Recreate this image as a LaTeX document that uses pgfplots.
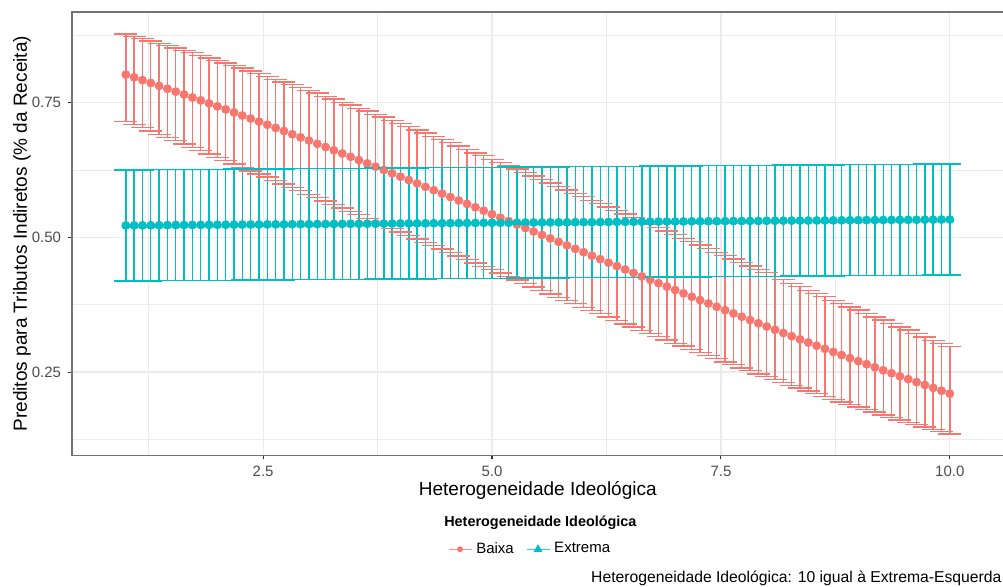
\documentclass[border=0pt]{standalone}
\usepackage{pgfplots}
\usepackage{pgfplotstable}
\pgfplotsset{compat=1.18}
\usepackage{fontspec}
\setmainfont{Liberation Sans}

\definecolor{baixa}{HTML}{F8766D}
\definecolor{extrema}{HTML}{00BFC4}
\definecolor{gridgrey}{HTML}{EBEBEB}
\definecolor{tickgrey}{HTML}{4D4D4D}

% x, Baixa (mean, +err, -err), Extrema mean (+-0.103)
\pgfplotstableread{
x b bp bm e
1.0000 0.8020 0.075 0.087 0.5220
1.0909 0.7968 0.076 0.088 0.5221
1.1818 0.7916 0.077 0.088 0.5222
1.2727 0.7863 0.078 0.089 0.5223
1.3636 0.7810 0.079 0.090 0.5224
1.4545 0.7757 0.080 0.091 0.5226
1.5455 0.7703 0.081 0.091 0.5227
1.6364 0.7649 0.082 0.092 0.5228
1.7273 0.7594 0.083 0.093 0.5229
1.8182 0.7540 0.083 0.093 0.5230
1.9091 0.7484 0.084 0.094 0.5231
2.0000 0.7429 0.085 0.095 0.5232
2.0909 0.7373 0.086 0.095 0.5233
2.1818 0.7317 0.087 0.096 0.5234
2.2727 0.7260 0.088 0.096 0.5236
2.3636 0.7203 0.088 0.097 0.5237
2.4545 0.7146 0.089 0.097 0.5238
2.5455 0.7088 0.090 0.097 0.5239
2.6364 0.7030 0.090 0.098 0.5240
2.7273 0.6972 0.091 0.098 0.5241
2.8182 0.6913 0.092 0.099 0.5242
2.9091 0.6854 0.092 0.099 0.5243
3.0000 0.6795 0.093 0.100 0.5244
3.0909 0.6735 0.094 0.100 0.5246
3.1818 0.6676 0.094 0.100 0.5247
3.2727 0.6615 0.095 0.101 0.5248
3.3636 0.6555 0.095 0.101 0.5249
3.4545 0.6494 0.096 0.101 0.5250
3.5455 0.6433 0.096 0.101 0.5251
3.6364 0.6372 0.097 0.102 0.5252
3.7273 0.6311 0.097 0.102 0.5253
3.8182 0.6249 0.098 0.102 0.5254
3.9091 0.6187 0.098 0.102 0.5256
4.0000 0.6125 0.099 0.103 0.5257
4.0909 0.6062 0.099 0.103 0.5258
4.1818 0.6000 0.099 0.103 0.5259
4.2727 0.5937 0.100 0.103 0.5260
4.3636 0.5874 0.100 0.103 0.5261
4.4545 0.5811 0.100 0.103 0.5262
4.5455 0.5747 0.101 0.103 0.5263
4.6364 0.5684 0.101 0.103 0.5264
4.7273 0.5620 0.101 0.103 0.5266
4.8182 0.5557 0.101 0.103 0.5267
4.9091 0.5493 0.102 0.103 0.5268
5.0000 0.5429 0.102 0.103 0.5269
5.0909 0.5365 0.102 0.103 0.5270
5.1818 0.5301 0.102 0.103 0.5271
5.2727 0.5237 0.103 0.103 0.5272
5.3636 0.5173 0.103 0.103 0.5273
5.4545 0.5108 0.103 0.103 0.5274
5.5455 0.5044 0.103 0.103 0.5276
5.6364 0.4980 0.103 0.103 0.5277
5.7273 0.4915 0.103 0.103 0.5278
5.8182 0.4851 0.103 0.102 0.5279
5.9091 0.4787 0.103 0.102 0.5280
6.0000 0.4723 0.103 0.102 0.5281
6.0909 0.4658 0.103 0.102 0.5282
6.1818 0.4594 0.103 0.101 0.5283
6.2727 0.4530 0.103 0.101 0.5284
6.3636 0.4466 0.103 0.101 0.5286
6.4545 0.4403 0.103 0.101 0.5287
6.5455 0.4339 0.103 0.100 0.5288
6.6364 0.4275 0.103 0.100 0.5289
6.7273 0.4212 0.103 0.100 0.5290
6.8182 0.4149 0.103 0.099 0.5291
6.9091 0.4086 0.103 0.099 0.5292
7.0000 0.4022 0.103 0.099 0.5293
7.0909 0.3960 0.102 0.098 0.5294
7.1818 0.3897 0.102 0.098 0.5296
7.2727 0.3835 0.102 0.097 0.5297
7.3636 0.3773 0.102 0.097 0.5298
7.4545 0.3711 0.101 0.096 0.5299
7.5455 0.3649 0.101 0.096 0.5300
7.6364 0.3588 0.101 0.095 0.5301
7.7273 0.3527 0.101 0.095 0.5302
7.8182 0.3466 0.100 0.094 0.5303
7.9091 0.3405 0.100 0.094 0.5304
8.0000 0.3345 0.100 0.093 0.5306
8.0909 0.3285 0.099 0.092 0.5307
8.1818 0.3225 0.099 0.092 0.5308
8.2727 0.3166 0.098 0.091 0.5309
8.3636 0.3107 0.098 0.090 0.5310
8.4545 0.3048 0.097 0.090 0.5311
8.5455 0.2989 0.097 0.089 0.5312
8.6364 0.2931 0.097 0.088 0.5313
8.7273 0.2873 0.096 0.088 0.5314
8.8182 0.2816 0.096 0.087 0.5316
8.9091 0.2759 0.095 0.086 0.5317
9.0000 0.2702 0.095 0.085 0.5318
9.0909 0.2645 0.094 0.084 0.5319
9.1818 0.2589 0.093 0.083 0.5320
9.2727 0.2533 0.093 0.083 0.5321
9.3636 0.2478 0.092 0.082 0.5322
9.4545 0.2423 0.091 0.081 0.5323
9.5455 0.2368 0.091 0.080 0.5324
9.6364 0.2314 0.090 0.079 0.5326
9.7273 0.2260 0.089 0.078 0.5327
9.8182 0.2206 0.088 0.077 0.5328
9.9091 0.2153 0.088 0.076 0.5329
10.0000 0.2100 0.087 0.075 0.5330
}\data

\pgfplotsset{
    cap/.style={only marks, mark=-, mark size=5.75pt, forget plot,
        mark options={draw=#1, line width=0.7pt}},
    bar/.style={color=#1, only marks, mark=none, forget plot,
        error bars/y dir=both, error bars/error mark=none,
        error bars/error bar style={color=#1, line width=0.7pt}},
}

\begin{document}
\begin{tikzpicture}
% white page background
\fill[white] (-36pt,-65.5pt) rectangle (465.2pt,227.5pt);
\begin{axis}[
    at={(0pt,0pt)}, anchor=south west,
    scale only axis,
    width=465.5pt, height=221.5pt,
    xmin=0.4125, xmax=10.5875,
    ymin=0.0956, ymax=0.918,
    xtick={2.5,5,7.5,10},
    ytick={0.25,0.5,0.75},
    minor xtick={1.25,3.75,6.25,8.75},
    minor ytick={0.125,0.375,0.625,0.875},
    grid=both,
    major grid style={color=gridgrey, line width=0.6pt},
    minor grid style={color=gridgrey, line width=0.35pt},
    axis line style={color=black!55, line width=0.6pt},
    tick align=outside,
    xtick pos=lower, ytick pos=left,
    major tick length=2pt, minor tick length=0pt,
    tick style={color=black!80, line width=0.55pt},
    /pgf/number format/assume math mode=true,
    ticklabel style={font=\fontsize{7.5}{9}\selectfont, text=tickgrey},
    xticklabel style={/pgf/number format/.cd, fixed, fixed zerofill, precision=1},
    yticklabel style={/pgf/number format/.cd, fixed, fixed zerofill, precision=2},
    xlabel={Heterogeneidade Ideológica},
    ylabel={Preditos para Tributos Indiretos (\% da Receita)},
    label style={font=\fontsize{9.5}{11}\selectfont},
    xlabel style={at={(axis description cs:0.5,-0.079)}, anchor=center},
    ylabel style={at={(axis description cs:-0.0537,0.5)}, anchor=center},
    legend columns=2,
    legend style={at={(axis description cs:0.403,-0.212)}, anchor=west,
        draw=none, fill=none, inner sep=0pt,
        font=\fontsize{7.5}{9}\selectfont,
        /tikz/every even column/.append style={column sep=4pt}},
    legend image code/.code={
        \draw[#1, mark=none, line width=0.7pt, opacity=0.8] (0pt,0pt) -- (11.5pt,0pt);
        \draw[#1] plot coordinates {(5.75pt,0pt)};
    },
]

% Baixa: bars and caps
\addplot[bar=baixa, error bars/y explicit]
    table[x=x, y=b, y error plus=bp, y error minus=bm] {\data};
\addplot[cap=baixa] table[x=x, y expr=\thisrow{b}+\thisrow{bp}] {\data};
\addplot[cap=baixa] table[x=x, y expr=\thisrow{b}-\thisrow{bm}] {\data};

% Extrema: bars and caps
\addplot[bar=extrema, error bars/y fixed=0.103] table[x=x, y=e] {\data};
\addplot[cap=extrema] table[x=x, y expr=\thisrow{e}+0.103] {\data};
\addplot[cap=extrema] table[x=x, y expr=\thisrow{e}-0.103] {\data};

% points
\addplot[color=baixa, only marks, mark=*, mark size=1.25pt,
    mark options={draw=none, fill=baixa}]
    table[x=x, y=b] {\data};
\addlegendentry{Baixa}

\addplot[color=extrema, only marks, mark=triangle*, mark size=2.1pt,
    mark options={draw=none, fill=extrema}]
    table[x=x, y=e] {\data};
\addlegendentry{Extrema}

\end{axis}

\node[anchor=west, font=\bfseries\fontsize{7.2}{9}\selectfont] at (182.5pt,-33.5pt) {Heterogeneidade Ideológica};
\node[anchor=east, font=\fontsize{7.85}{9}\selectfont, inner sep=0pt] at (464.6pt,-61.5pt) {Heterogeneidade Ideológica: 10 igual à Extrema-Esquerda};

\pgfresetboundingbox
\path[use as bounding box] (-36pt,-65.5pt) rectangle (465.2pt,227.5pt);
\end{tikzpicture}
\end{document}
